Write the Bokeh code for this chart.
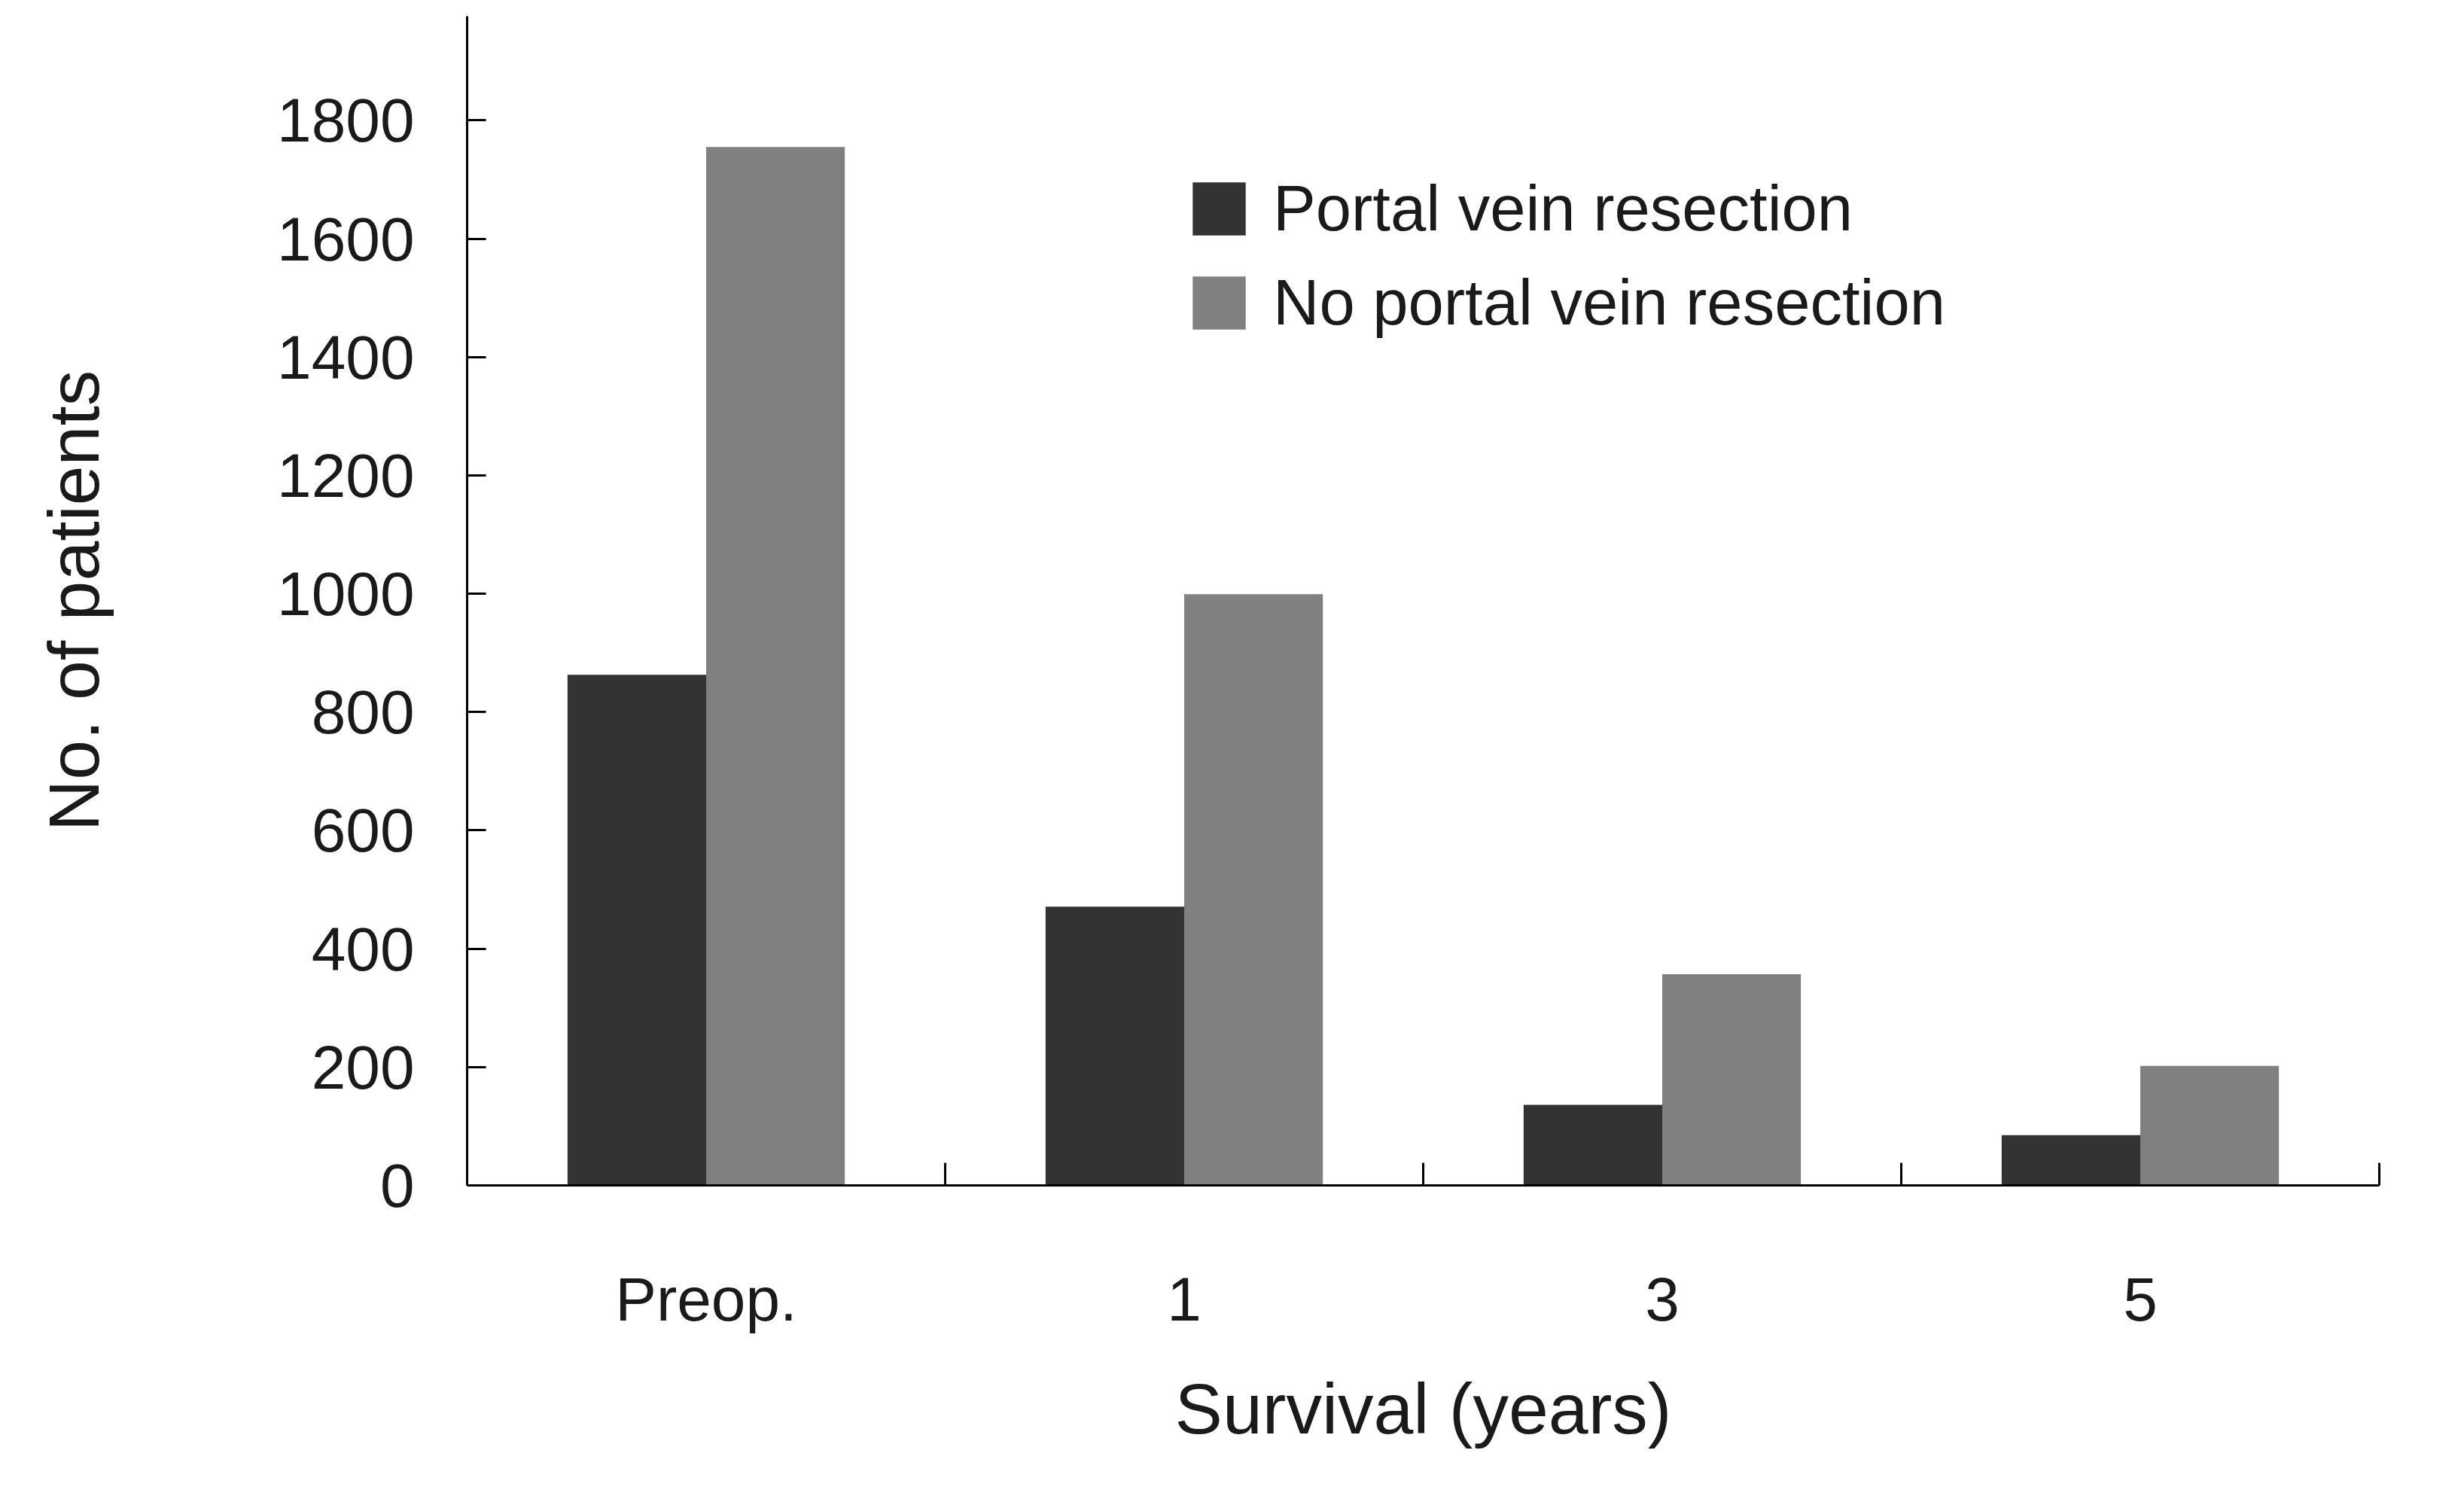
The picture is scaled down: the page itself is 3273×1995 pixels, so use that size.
from bokeh.plotting import figure
from bokeh.models import Range1d, FixedTicker, Legend, LegendItem
from bokeh.embed import file_html
from bokeh.resources import INLINE
import numpy as np

categories = ["Preop.", "1", "3", "5"]
pv_resection = [863, 471, 136, 85]
no_pv_resection = [1755, 999, 357, 202]
y_ticks = [0, 200, 400, 600, 800, 1000, 1200, 1400, 1600, 1800]

FONT = "Liberation Sans"
centers = np.arange(len(categories)) + 0.5
bw = 0.29

p = figure(width=3257, height=1975, output_backend="svg", toolbar_location=None,
           x_range=Range1d(0, len(categories)), y_range=Range1d(0, 1976),
           min_border_left=620, min_border_right=97, min_border_top=21, min_border_bottom=401)
p.outline_line_color = None
p.grid.visible = False
p.background_fill_color = "white"
p.border_fill_color = "white"

r1 = p.vbar(x=centers - bw / 2, top=pv_resection, width=bw, bottom=0,
            fill_color="#333333", line_color=None)
r2 = p.vbar(x=centers + bw / 2, top=no_pv_resection, width=bw, bottom=0,
            fill_color="#808080", line_color=None)

# x axis
xa = p.xaxis[0]
xa.ticker = FixedTicker(ticks=list(centers), minor_ticks=list(np.arange(1, len(categories) + 1)))
xa.major_label_overrides = {float(c): lab for c, lab in zip(centers, categories)}
xa.major_tick_line_color = None
xa.minor_tick_in = 30
xa.minor_tick_out = 0
xa.minor_tick_line_width = 3
xa.minor_tick_line_color = "black"
xa.axis_line_width = 3
xa.axis_line_color = "black"
xa.major_label_text_font = FONT
xa.major_label_text_font_size = "82px"
xa.major_label_text_color = "#1a1a1a"
xa.major_label_standoff = 99
xa.axis_label = "Survival (years)"
xa.axis_label_text_font = FONT
xa.axis_label_text_font_size = "95px"
xa.axis_label_text_font_style = "normal"
xa.axis_label_text_color = "#1a1a1a"
xa.axis_label_standoff = 44

# y axis
ya = p.yaxis[0]
ya.ticker = FixedTicker(ticks=y_ticks)
ya.major_tick_in = 25
ya.major_tick_out = 0
ya.major_tick_line_width = 3
ya.minor_tick_line_color = None
ya.axis_line_width = 3
ya.axis_line_color = "black"
ya.major_label_text_font = FONT
ya.major_label_text_font_size = "82px"
ya.major_label_text_color = "#1a1a1a"
ya.major_label_standoff = 70
ya.axis_label = "No. of patients"
ya.axis_label_text_font = FONT
ya.axis_label_text_font_size = "95px"
ya.axis_label_text_font_style = "normal"
ya.axis_label_text_color = "#1a1a1a"
ya.axis_label_standoff = 214

legend = Legend(items=[LegendItem(label="Portal vein resection", renderers=[r1]),
                       LegendItem(label="No portal vein resection", renderers=[r2])],
                location=(955, 1123))
legend.glyph_width = 88
legend.glyph_height = 88
legend.label_height = 88
legend.spacing = 27
legend.padding = 0
legend.margin = 0
legend.label_standoff = 28
legend.border_line_color = None
legend.background_fill_alpha = 0
legend.label_text_font = FONT
legend.label_text_font_size = "85px"
legend.label_text_color = "#1a1a1a"
p.add_layout(legend, "center")

open("out.html", "w").write(file_html(p, INLINE))
